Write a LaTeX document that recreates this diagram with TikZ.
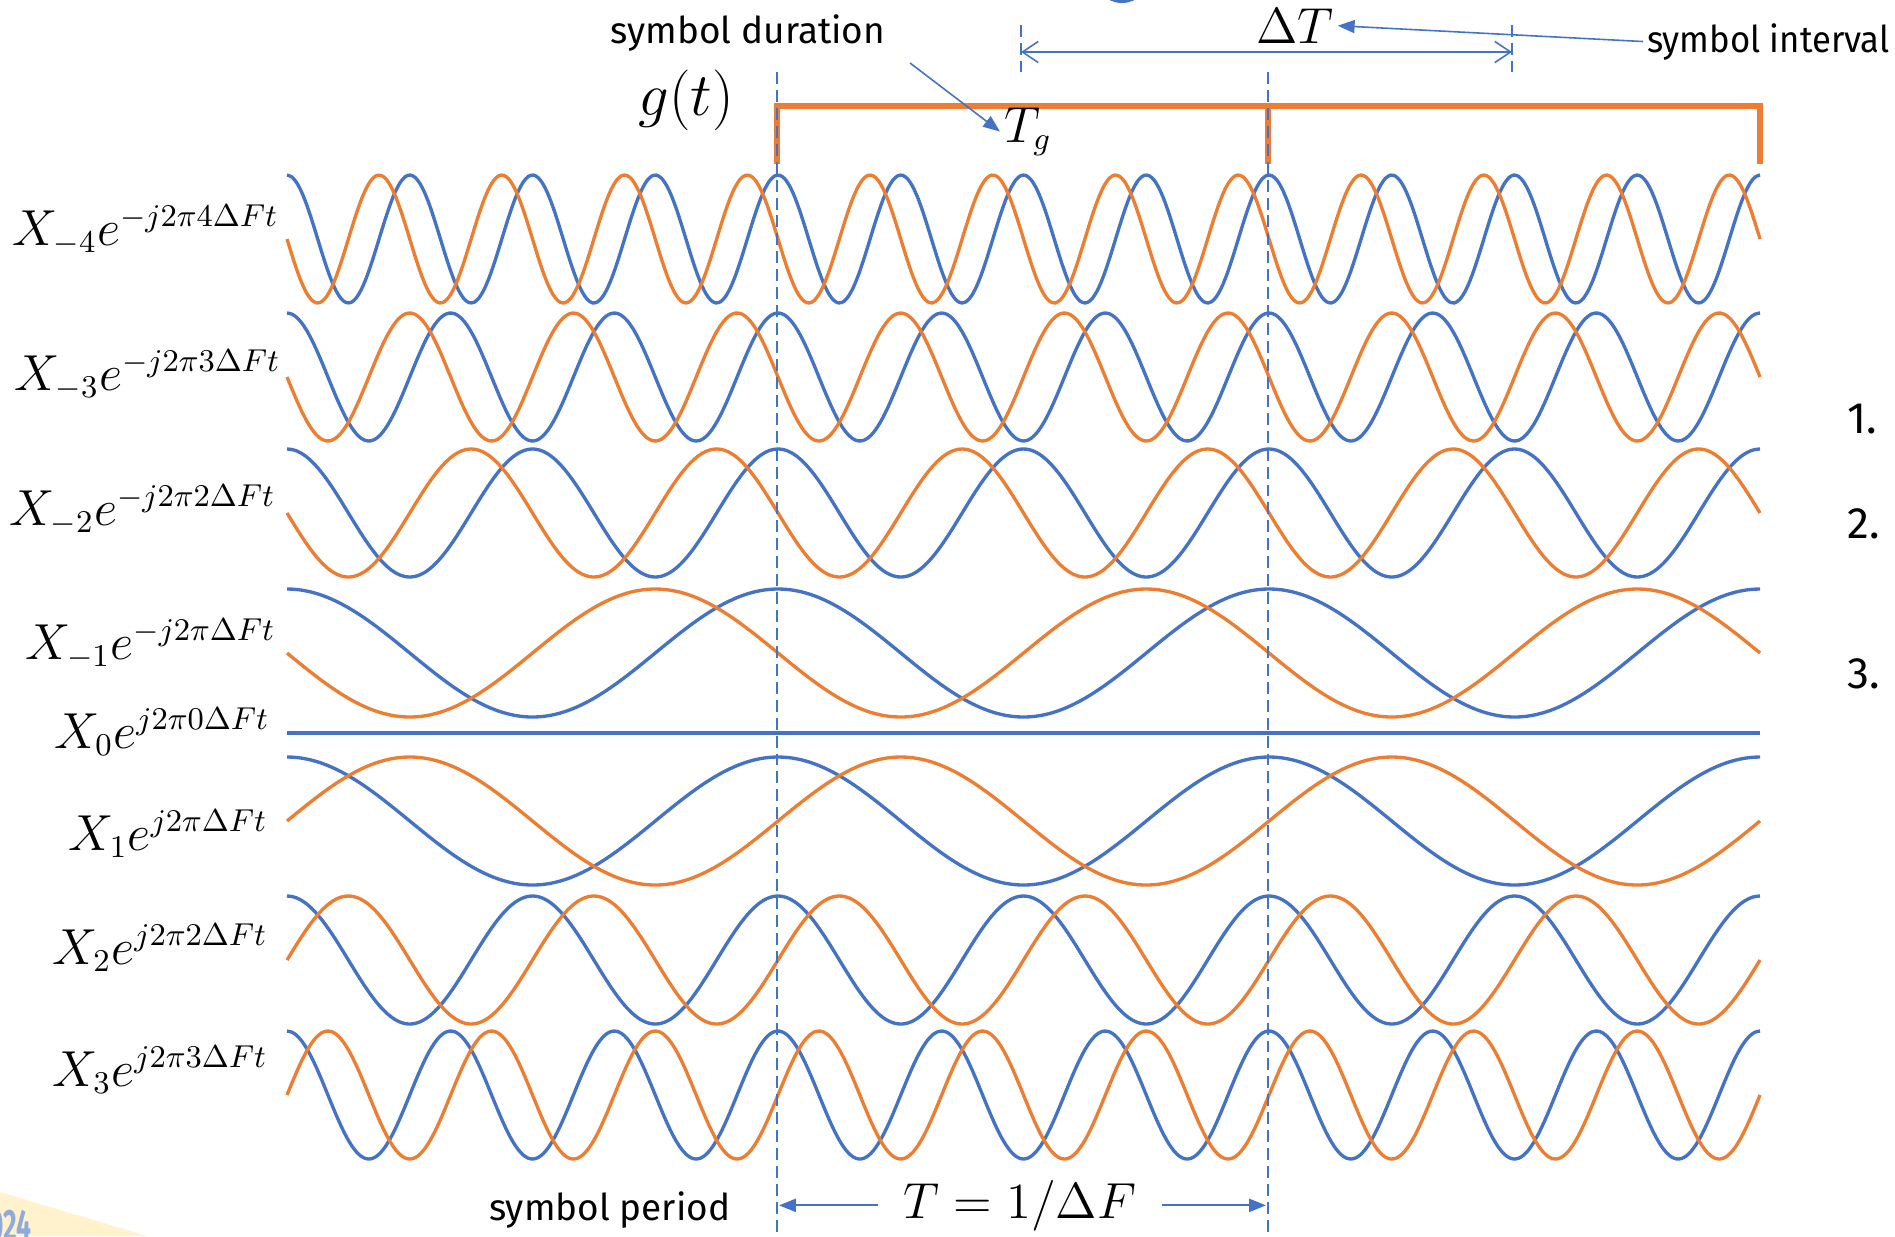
\documentclass[tikz,border=0pt]{standalone}
\usepackage[no-math]{fontspec}
\newfontfamily\txtfont{Fira Sans}
\usetikzlibrary{arrows.meta}
\definecolor{wblue}{HTML}{4472C4}
\definecolor{worange}{HTML}{ED7D31}
\definecolor{pale}{HTML}{FFF2CC}
\definecolor{yearblue}{HTML}{8FAADC}

\begin{document}
\begin{tikzpicture}[x=0.01cm,y=-0.01cm,inner sep=1pt,
    wave/.style={line width=0.95pt},
    guide/.style={wblue,line width=0.65pt,dash pattern=on 3.4pt off 1.7pt},
    gbox/.style={worange,line width=1.7pt},
    note/.style={font=\txtfont\fontsize{10.5}{12}\selectfont},
    lab/.style={font=\fontsize{13.4}{15}\selectfont,anchor=base east},
    big/.style={font=\fontsize{13.5}{16}\selectfont},
    pointer/.style={wblue,line width=0.45pt,-{Triangle[length=4.8pt,width=3.7pt]}}]

    \useasboundingbox (0,0) rectangle (1895,1236);

    % Slide leftovers
    \fill[pale] (0,1192) -- (147,1236) -- (0,1236) -- cycle;
    \node[font=\txtfont\bfseries\fontsize{12.5}{14}\selectfont,text=yearblue,anchor=base east,inner sep=0] (year) at (32,1240) {\scalebox{0.6}[1]{2024}};
    \fill[wblue] (1122,-25) circle (28);

    % Subcarriers: blue = cos, orange = sin
    \foreach \k/\yc in {-4/239,-3/377,-2/513,-1/653,1/821,2/960,3/1095}{
        \draw[wave,wblue] plot[domain=0:1473,samples=300,smooth] ({287+\x},{\yc-64*cos((\k)*(\x/491)*360)});
        \draw[wave,worange] plot[domain=0:1473,samples=300,smooth] ({287+\x},{\yc-64*sin((\k)*(\x/491)*360)});
    }
    \draw[wave,wblue] (287,733) -- (1760,733);

    % Row labels
    \node[lab] (lm4) at (283,245) {$X_{-4}e^{-j2\pi4\Delta Ft}$};
    \node[lab] (lm3) at (285,390) {$X_{-3}e^{-j2\pi3\Delta Ft}$};
    \node[lab] (lm2) at (280,525) {$X_{-2}e^{-j2\pi2\Delta Ft}$};
    \node[lab] (lm1) at (280,659) {$X_{-1}e^{-j2\pi\Delta Ft}$};
    \node[lab] (l0) at (274,748) {$X_0e^{j2\pi0\Delta Ft}$};
    \node[lab] (l1) at (272,850) {$X_1e^{j2\pi\Delta Ft}$};
    \node[lab] (l2) at (272,964) {$X_2e^{j2\pi2\Delta Ft}$};
    \node[lab] (l3) at (272,1086) {$X_3e^{j2\pi3\Delta Ft}$};

    % Pulse g(t)
    \draw[gbox] (777,164) |- (1760,106) -- (1760,164);
    \draw[gbox] (1268,106) -- (1268,164);
    \node[big,font=\fontsize{16.5}{19}\selectfont,anchor=base] (gt) at (686,115) {$g(t)$};
    \node[big,anchor=base west] (tg) at (1000,142) {$T_g$};

    % Symbol boundaries
    \draw[guide] (777,72) -- (777,1236);
    \draw[guide] (1268,72) -- (1268,1236);
    \draw[guide] (1021,25) -- (1021,72);
    \draw[guide] (1512,25) -- (1512,72);

    % Symbol interval
    \coordinate (dt1) at (1021,52);
    \coordinate (dt2) at (1512,52);
    \draw[wblue,line width=0.45pt,{Straight Barb[length=4.5pt,width=6pt]}-{Straight Barb[length=4.5pt,width=6pt]}] (dt1) -- (dt2);
    \node[big,anchor=base west] (dt) at (1252,43) {$\Delta T$};
    \node[note,anchor=base west] (int) at (1643,52) {\scalebox{0.94}[1]{symbol interval}};
    \draw[pointer] (int.west) -- (dt.east);

    % Symbol duration
    \node[note,anchor=base] (dur) at (748,43) {symbol duration};
    \coordinate (durtail) at (910,63);
    \draw[pointer] (durtail) -- (tg.west);

    % Symbol period
    \node[note,anchor=base west] (sp) at (485,1220) {symbol period};
    \node[big,anchor=base,inner xsep=7pt] (per) at (1020,1218) {$T=1/\Delta F$};
    \coordinate (p1) at (779,1208);
    \coordinate (p2) at (1266,1208);
    \draw[pointer,line width=0.6pt] (per.west) -- (per.west -| p1);
    \draw[pointer,line width=0.6pt] (per.east) -- (per.east -| p2);

    % List numbers
    \node[note,font=\txtfont\fontsize{12.5}{14}\selectfont,anchor=base west] (n1) at (1843,433) {1.};
    \node[note,font=\txtfont\fontsize{12.5}{14}\selectfont,anchor=base west] (n2) at (1843,538) {2.};
    \node[note,font=\txtfont\fontsize{12.5}{14}\selectfont,anchor=base west] (n3) at (1843,688) {3.};
\end{tikzpicture}
\end{document}
